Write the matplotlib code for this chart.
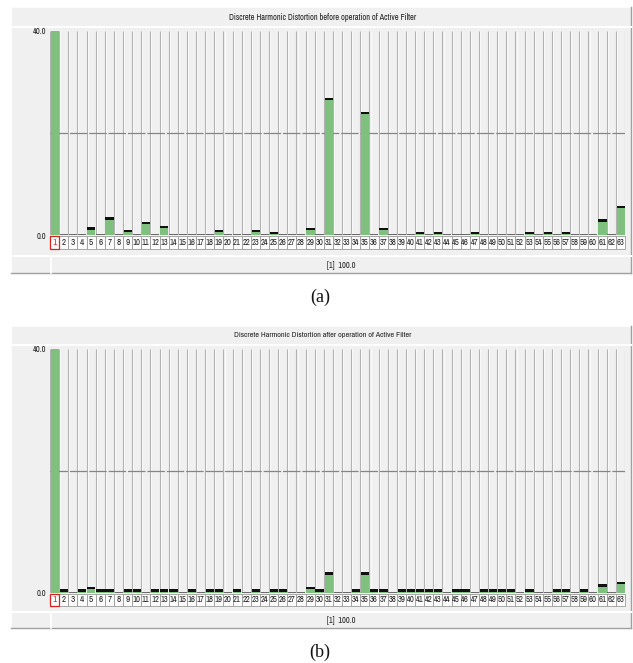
import matplotlib
matplotlib.use("Agg")
import matplotlib.pyplot as plt
from matplotlib.patches import Rectangle
from matplotlib.lines import Line2D
import matplotlib.transforms as mtransforms
from matplotlib import font_manager as fm

# ---------------- data ----------------
harmonics = list(range(1, 64))
before_thd = [100, 0, 0, 0, 1.5, 0, 3.5, 0, 1.0, 0,
              2.6, 0, 1.8, 0, 0, 0, 0, 0, 1.0, 0,
              0, 0, 1.0, 0, 0.6, 0, 0, 0, 1.4, 0,
              26.9, 0, 0, 0, 24.2, 0, 1.4, 0, 0, 0,
              0.6, 0, 0.6, 0, 0, 0, 0.6, 0, 0, 0,
              0, 0, 0.6, 0, 0.6, 0, 0.6, 0, 0, 0,
              3.1, 0, 5.7]
after_thd = [100, 0.6, 0, 0.6, 1.0, 0.6, 0.6, 0, 0.6, 0.6,
             0, 0.6, 0.6, 0.6, 0, 0.6, 0, 0.6, 0.6, 0,
             0.6, 0, 0.6, 0, 0.6, 0.6, 0, 0, 1.0, 0.6,
             3.4, 0, 0, 0.6, 3.4, 0.6, 0.6, 0, 0.6, 0.6,
             0.6, 0.6, 0.6, 0, 0.6, 0.6, 0, 0.6, 0.6, 0.6,
             0.6, 0, 0.6, 0, 0, 0.6, 0.6, 0, 0.6, 0,
             1.45, 0, 1.85]
titles = ["Discrete Harmonic Distortion before operation of Active Filter",
          "Discrete Harmonic Distortion after operation of Active Filter"]
captions = ["(a)", "(b)"]
y_ticks = [0, 40.0]
y_tick_labels = ["0.0", "40.0"]
limit_line = 20.0
footer_text = "[1]  100.0"

# ---------------- fonts ----------------
available = {f.name for f in fm.fontManager.ttflist}
narrow_font = "DejaVu Sans"
for cand in ["Liberation Sans Narrow", "Arial Narrow", "Archivo Narrow", "PT Sans Narrow",
             "Roboto Condensed", "Open Sans Condensed", "Pragati Narrow", "Encode Sans Condensed"]:
    if cand in available:
        narrow_font = cand
        break
NARROW = [narrow_font, "DejaVu Sans"]
SERIF = ["Liberation Serif", "DejaVu Serif"]

W, H = 633, 663
fig = plt.figure(figsize=(W / 100, H / 100), dpi=100)
fig.patch.set_facecolor("white")

GREEN = "#7fc07f"
BG = "#f0f0f0"
GRID = "#b2b2b2"


def fx(x):
    return x / W


def fy(y):
    return 1 - y / H


def frect(x0, y0, x1, y1, **kw):
    r = Rectangle((fx(x0), fy(y1)), fx(x1) - fx(x0), fy(y0) - fy(y1),
                  transform=fig.transFigure, **kw)
    fig.patches.append(r)
    return r


def fline(x0, y0, x1, y1, **kw):
    l = Line2D([fx(x0), fx(x1)], [fy(y0), fy(y1)], transform=fig.transFigure, **kw)
    fig.lines.append(l)


panels = [
    dict(values=before_thd, frame=(11, 7, 631, 273), title_b=27, ax=(50, 31, 625, 235),
         labels=(236, 249), footer=(256, 273), cap_y=297, title_w=186),
    dict(values=after_thd, frame=(11, 326, 631, 628), title_b=345, ax=(50, 349, 625, 593),
         labels=(594, 606), footer=(612, 628), cap_y=652, title_w=176),
]

fit_texts = []  # (text, target width px)
ytick_texts = []

for p, title, cap in zip(panels, titles, captions):
    x0, y0, x1, y1 = p["frame"]
    frect(x0, y0, x1, y1, facecolor=BG, edgecolor="none", zorder=0)
    fline(x0, y0, x1, y0, color="white", lw=1.2, zorder=1)
    fline(x0, y0, x0, y1, color="white", lw=1.2, zorder=1)
    fline(x1, y0, x1, y1, color="#a0a0a0", lw=1.0, zorder=1)
    fline(x0, y1, x1, y1, color="#a0a0a0", lw=1.0, zorder=1)
    fline(x0, p["title_b"], x1, p["title_b"], color="white", lw=1.5, zorder=1)
    t = fig.text(fx(323), fy((y0 + p["title_b"]) / 2), title, ha="center", va="center",
                 fontsize=5.6, family=NARROW, color="#202020")
    fit_texts.append((t, p["title_w"]))
    f0, f1 = p["footer"]
    fline(x0, f0, x1, f0, color="white", lw=1.5, zorder=1)
    fline(50.5, f0, 50.5, f1, color="white", lw=1.2, zorder=1)
    t = fig.text(fx(341), fy((f0 + f1) / 2 + 0.5), footer_text, ha="center", va="center",
                 fontsize=5.6, family=NARROW, color="#202020")
    fit_texts.append((t, 28))
    fig.text(fx(320), fy(p["cap_y"]), cap, ha="center", va="center",
             fontsize=13, family=SERIF, color="#111111")

    ax0, ay0, ax1, ay1 = p["ax"]
    ax = fig.add_axes([fx(ax0), fy(ay1), fx(ax1) - fx(ax0), fy(ay0) - fy(ay1)], zorder=3)
    ax.set_facecolor(BG)
    for s in ax.spines.values():
        s.set_visible(False)
    ax.set_xlim(0.5, 63.5)
    ax.set_ylim(0, y_ticks[-1])
    ax_h_px = ay1 - ay0
    upp = y_ticks[-1] / ax_h_px

    ax.vlines([k + 0.5 for k in range(0, 64)], 0, y_ticks[-1], color=GRID, lw=0.8, zorder=1)
    ax.vlines([k + 0.5 + 0.12 for k in range(0, 63)], 0, y_ticks[-1], color="white", lw=0.5, zorder=1)
    ax.axhline(limit_line, color="#858585", lw=0.9, ls=(0, (14, 1.5)), zorder=1.5)

    vals = p["values"]
    bw = 0.9
    xs = [h + 0.03 for h in harmonics]
    ax.bar(xs, vals, width=bw, color=GREEN, edgecolor="none", zorder=2)
    cap_h = 2.4 * upp
    top = y_ticks[-1]
    cx = [x for x, v in zip(xs, vals) if 0 < v < top]
    cb = [max(v - cap_h, 0) for v in vals if 0 < v < top]
    ch = [min(cap_h, v) for v in vals if 0 < v < top]
    ax.bar(cx, ch, bottom=cb, width=bw, color="#101010", edgecolor="none", zorder=3)
    zx = [x for x, v in zip(xs, vals) if v == 0]
    ax.bar(zx, [1.3 * upp] * len(zx), width=bw, color="#6a6a6a", edgecolor="none", zorder=3)

    ax.set_xticks([])
    ax.set_yticks(y_ticks)
    ax.set_yticklabels(y_tick_labels, fontsize=6.8, family=NARROW, color="#202020")
    ax.tick_params(axis="y", length=0, pad=2.5)
    ytick_texts.extend(ax.get_yticklabels())

    l0, l1 = p["labels"]
    trans = mtransforms.blended_transform_factory(ax.transData, ax.transAxes)
    ya = -(l1 - ay1) / ax_h_px
    yb = -(l0 - ay1) / ax_h_px
    for h in harmonics:
        first = h == 1
        ax.add_patch(Rectangle((h - 0.5, ya), 1, yb - ya, transform=trans, clip_on=False,
                               facecolor="white", edgecolor="#e02020" if first else "#9a9a9a",
                               lw=0.9 if first else 0.6, zorder=5 if first else 4))
        t = ax.text(h, (ya + yb) / 2, str(h), transform=trans, ha="center", va="center",
                    fontsize=6.6, family=NARROW, color="#e02020" if first else "#202020",
                    clip_on=False, zorder=6)
        if h >= 10:
            fit_texts.append((t, 7.8))

# shrink texts to fit the reference widths
fig.canvas.draw()
renderer = fig.canvas.get_renderer()
for t, target in fit_texts:
    w = t.get_window_extent(renderer).width
    if w > 0 and (w > target or target > 20):
        t.set_fontsize(t.get_fontsize() * target / w)
for t in ytick_texts:
    if t.get_text() == "40.0":
        w = t.get_window_extent(renderer).width
        if w > 13.5:
            f = t.get_fontsize() * 13.5 / w
            for u in ytick_texts:
                u.set_fontsize(f)
            break

fig.savefig("out.png", dpi=100)
